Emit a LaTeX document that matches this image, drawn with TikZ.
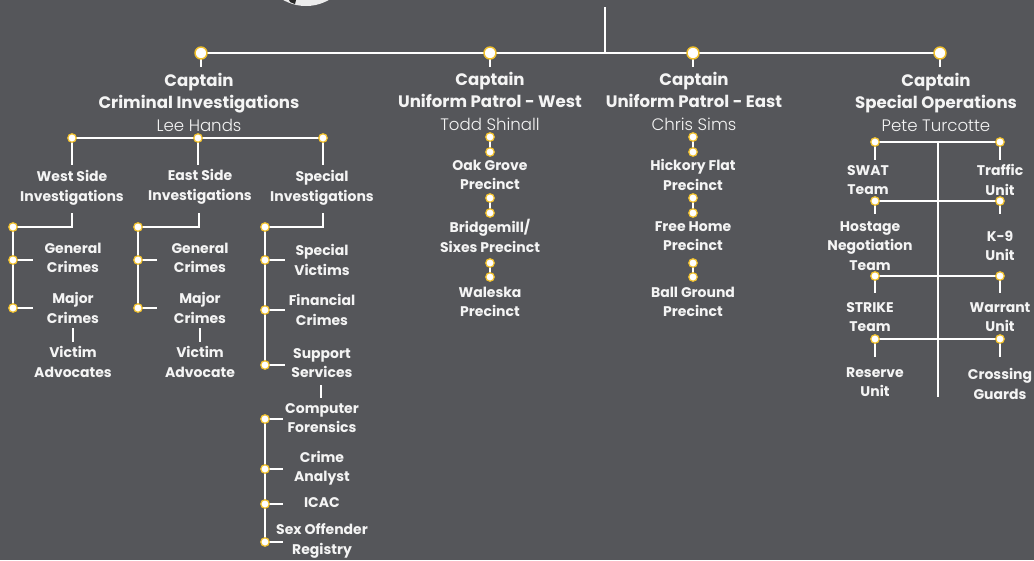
\documentclass[tikz,border=0pt]{standalone}
\usepackage{fontspec}
\setmainfont{Poppins}
\newfontfamily\lightfont{Poppins Light}
\definecolor{bgc}{HTML}{55565A}
\definecolor{doty}{HTML}{F0C02C}
\definecolor{txt}{HTML}{F4F4F4}
\pgfdeclarelayer{lines}
\pgfsetlayers{lines,main}
\tikzset{
  conn/.style={draw=white,line width=2.6pt},
  thin/.style={draw=white,line width=2.2pt},
  bigdot/.style={circle,fill=white,draw=doty,line width=1.4pt,minimum size=12pt,inner sep=0pt},
  smalldot/.style={circle,fill=white,draw=doty,line width=1.2pt,minimum size=8.5pt,inner sep=0pt},
  captxt/.style={text=txt,align=center,inner sep=0pt,font=\bfseries\fontsize{16.6}{22.5}\selectfont},
  subtxt/.style={text=txt,align=center,inner sep=0pt,font=\bfseries\fontsize{14}{19.5}\selectfont},
}
\begin{document}
\begin{tikzpicture}[x=1pt,y=-1pt]
\begin{pgfonlayer}{lines}
\fill[bgc] (0,0) rectangle (1034,560);
\end{pgfonlayer}
\useasboundingbox (0,0) rectangle (1034,560);
% photo fragment
\begin{scope}
\clip (0,0) rectangle (1034,560);
\fill[gray!15] (306,-40) circle (46);
\fill[black!85] (289,0) -- (296,0) -- (295,4) -- (290,2) -- cycle;
\end{scope}
% main level
\coordinate (top) at (605,7);
\coordinate (mj) at (605,53);
\node[bigdot] (d1) at (201,53) {};
\node[bigdot] (d2) at (490,53) {};
\node[bigdot] (d3) at (693,53) {};
\node[bigdot] (d4) at (940,53) {};
\coordinate (s1) at (201,67);
\coordinate (s2) at (490,67);
\coordinate (s3) at (693,67);
\coordinate (s4) at (940,67);
\begin{pgfonlayer}{lines}
\draw[conn] (d1.center) -- (d2.center) -- (d3.center) -- (d4.center);
\draw[conn] (top) -- (mj);
\draw[conn] (d1.center) -- (s1);
\draw[conn] (d2.center) -- (s2);
\draw[conn] (d3.center) -- (s3);
\draw[conn] (d4.center) -- (s4);
\end{pgfonlayer}
\node[captxt] (cap1) at (199,102) {Captain\\Criminal Investigations\\{\lightfont\mdseries Lee Hands}};
\node[captxt] (cap2) at (490,101) {Captain\\Uniform Patrol - West\\{\lightfont\mdseries Todd Shinall}};
\node[captxt] (cap3) at (694,101) {Captain\\Uniform Patrol - East\\{\lightfont\mdseries Chris Sims}};
\node[captxt] (cap4) at (936,102) {Captain\\Special Operations\\{\lightfont\mdseries Pete Turcotte}};
% criminal investigations
\node[smalldot] (e1) at (72,138) {};
\node[smalldot] (e2) at (198,138) {};
\node[smalldot] (e3) at (323,138) {};
\coordinate (e1b) at (72,165);
\coordinate (e2b) at (198,165);
\coordinate (e3b) at (323,165);
\begin{pgfonlayer}{lines}
\draw[thin] (e1.center) -- (e2.center) -- (e3.center);
\draw[thin] (e1.center) -- (e1b);
\draw[thin] (e2.center) -- (e2b);
\draw[thin] (e3.center) -- (e3b);
\end{pgfonlayer}
\node[subtxt] (wsi) at (72,188) {West Side\\Investigations};
\node[subtxt] (esi) at (200,187) {East Side\\Investigations};
\node[subtxt] (spi) at (322,188) {Special\\Investigations};
% west side
\coordinate (w0) at (72,213); \coordinate (w1) at (72,227);
\node[smalldot] (wd0) at (13,227) {};
\node[smalldot] (wd1) at (13,260) {};
\node[smalldot] (wd2) at (13,308) {};
\coordinate (wd1s) at (33,260);
\coordinate (wd2s) at (33,308);
\coordinate (wv0) at (73,328); \coordinate (wv1) at (73,342);
\begin{pgfonlayer}{lines}
\draw[thin] (w0) -- (w1) -- (wd0.center);
\draw[thin] (wd0.center) -- (wd1.center) -- (wd2.center);
\draw[thin] (wd1.center) -- (wd1s);
\draw[thin] (wd2.center) -- (wd2s);
\draw[thin] (wv0) -- (wv1);
\end{pgfonlayer}
\node[subtxt] (wgc) at (73,258) {General\\Crimes};
\node[subtxt] (wmc) at (73,308) {Major\\Crimes};
\node[subtxt] (wva) at (73,362) {Victim\\Advocates};
% east side
\coordinate (x0) at (199,213); \coordinate (x1) at (199,227);
\node[smalldot] (xd0) at (138,227) {};
\node[smalldot] (xd1) at (138,260) {};
\node[smalldot] (xd2) at (138,308) {};
\coordinate (xd1s) at (157,260);
\coordinate (xd2s) at (157,308);
\coordinate (xv0) at (200,328); \coordinate (xv1) at (200,342);
\begin{pgfonlayer}{lines}
\draw[thin] (x0) -- (x1) -- (xd0.center);
\draw[thin] (xd0.center) -- (xd1.center) -- (xd2.center);
\draw[thin] (xd1.center) -- (xd1s);
\draw[thin] (xd2.center) -- (xd2s);
\draw[thin] (xv0) -- (xv1);
\end{pgfonlayer}
\node[subtxt] (xgc) at (200,258) {General\\Crimes};
\node[subtxt] (xmc) at (200,308) {Major\\Crimes};
\node[subtxt] (xva) at (200,362) {Victim\\Advocate};
% special investigations
\coordinate (y0) at (323,213); \coordinate (y1) at (323,227);
\node[smalldot] (yd0) at (265,227) {};
\node[smalldot] (yd1) at (265,260) {};
\node[smalldot] (yd2) at (265,310) {};
\node[smalldot] (yd3) at (265,365) {};
\coordinate (yd1s) at (285,260);
\coordinate (yd2s) at (285,310);
\coordinate (yd3s) at (285,365);
\coordinate (yv0) at (321,385); \coordinate (yv1) at (321,398);
\node[smalldot] (td0) at (265,419) {};
\node[smalldot] (td1) at (265,469) {};
\node[smalldot] (td2) at (265,504) {};
\node[smalldot] (td3) at (265,542) {};
\coordinate (td0s) at (283,419);
\coordinate (td1s) at (283,469);
\coordinate (td2s) at (283,504);
\coordinate (td3s) at (283,542);
\begin{pgfonlayer}{lines}
\draw[thin] (y0) -- (y1) -- (yd0.center);
\draw[thin] (yd0.center) -- (yd1.center) -- (yd2.center) -- (yd3.center);
\draw[thin] (yd1.center) -- (yd1s);
\draw[thin] (yd2.center) -- (yd2s);
\draw[thin] (yd3.center) -- (yd3s);
\draw[thin] (yv0) -- (yv1);
\draw[thin] (td0.center) -- (td1.center) -- (td2.center) -- (td3.center);
\draw[thin] (td0.center) -- (td0s);
\draw[thin] (td1.center) -- (td1s);
\draw[thin] (td2.center) -- (td2s);
\draw[thin] (td3.center) -- (td3s);
\end{pgfonlayer}
\node[subtxt] (svi) at (322,260) {Special\\Victims};
\node[subtxt] (fcr) at (322,310) {Financial\\Crimes};
\node[subtxt] (sse) at (322,363) {Support\\Services};
\node[subtxt] (cfo) at (322,418) {Computer\\Forensics};
\node[subtxt] (can) at (322,468) {Crime\\Analyst};
\node[subtxt] (ica) at (322,503) {ICAC};
\node[subtxt] (sor) at (322,541) {Sex Offender\\Registry};
% uniform patrol west and east
\foreach \c/\x in {p/490,q/693}{
  \node[smalldot] (\c1a) at (\x,137) {};
  \node[smalldot] (\c1b) at (\x,152) {};
  \node[smalldot] (\c2a) at (\x,198) {};
  \node[smalldot] (\c2b) at (\x,213) {};
  \node[smalldot] (\c3a) at (\x,263) {};
  \node[smalldot] (\c3b) at (\x,277) {};
  \begin{pgfonlayer}{lines}
  \draw[thin] (\c1a.center) -- (\c1b.center);
  \draw[thin] (\c2a.center) -- (\c2b.center);
  \draw[thin] (\c3a.center) -- (\c3b.center);
  \end{pgfonlayer}
}
\node[subtxt] (ogp) at (490,175) {Oak Grove\\Precinct};
\node[subtxt] (bsp) at (490,236) {Bridgemill/\\Sixes Precinct};
\node[subtxt] (wap) at (490,302) {Waleska\\Precinct};
\node[subtxt] (hfp) at (693,175) {Hickory Flat\\Precinct};
\node[subtxt] (fhp) at (693,236) {Free Home\\Precinct};
\node[subtxt] (bgp) at (693,302) {Ball Ground\\Precinct};
% special operations
\coordinate (so0) at (938,142); \coordinate (so1) at (938,397);
\begin{pgfonlayer}{lines}
\draw[thin] (so0) -- (so1);
\end{pgfonlayer}
\foreach \n/\y/\s in {1/142/160,2/201/214,3/276/293,4/339/357}{
  \node[smalldot] (ol\n) at (875,\y) {};
  \node[smalldot] (or\n) at (1000,\y) {};
  \coordinate (ols\n) at (875,\s);
  \coordinate (ors\n) at (1000,\s);
  \begin{pgfonlayer}{lines}
  \draw[thin] (ol\n.center) -- (or\n.center);
  \draw[thin] (ol\n.center) -- (ols\n);
  \draw[thin] (or\n.center) -- (ors\n);
  \end{pgfonlayer}
}
\node[subtxt] (swt) at (868,180) {SWAT\\Team};
\node[subtxt] (tru) at (1000,180) {Traffic\\Unit};
\node[subtxt] (hnt) at (870,246) {Hostage\\Negotiation\\Team};
\node[subtxt] (k9u) at (1000,246) {K-9\\Unit};
\node[subtxt] (stt) at (870,317) {STRIKE\\Team};
\node[subtxt] (wru) at (1000,317) {Warrant\\Unit};
\node[subtxt] (reu) at (875,382) {Reserve\\Unit};
\node[subtxt] (crg) at (1000,384) {Crossing\\Guards};
\end{tikzpicture}
\end{document}
